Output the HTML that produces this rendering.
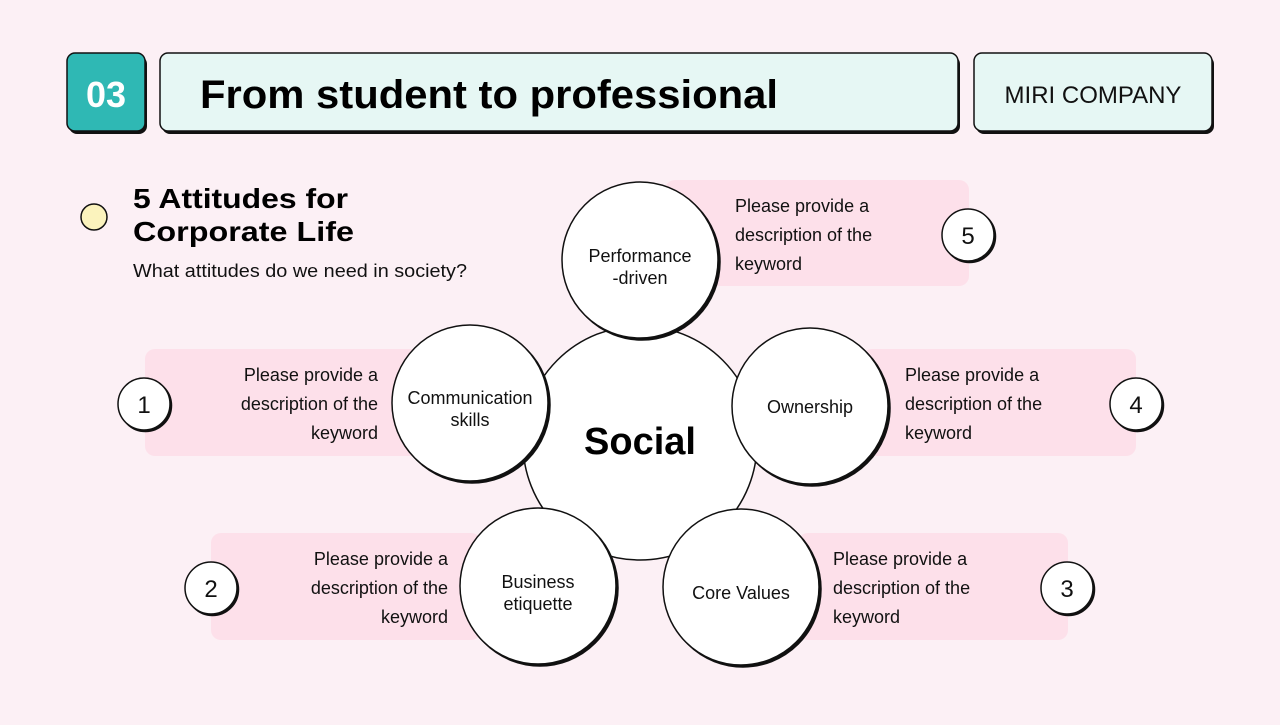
<!DOCTYPE html>
<html><head><meta charset="utf-8"><style>
body{margin:0;width:1280px;height:720px;overflow:hidden;background:#fcf0f5;font-family:"Liberation Sans",sans-serif}
</style></head><body>
<svg width="1280" height="720" xmlns="http://www.w3.org/2000/svg" font-family="Liberation Sans, sans-serif">
<rect width="1280" height="720" fill="#fcf0f5"/>
<!-- header -->
<rect x="69" y="56" width="78" height="78" rx="8" fill="#111"/>
<rect x="67" y="53" width="78" height="78" rx="8" fill="#2fb8b4" stroke="#111" stroke-width="1.5"/>
<text x="106" y="107" font-size="36" font-weight="bold" fill="#fff" text-anchor="middle">03</text>
<rect x="162" y="56" width="798" height="78" rx="8" fill="#111"/>
<rect x="160" y="53" width="798" height="78" rx="8" fill="#e6f7f4" stroke="#111" stroke-width="1.5"/>
<text x="200" y="108" font-size="40" font-weight="bold" fill="#000" textLength="578" lengthAdjust="spacingAndGlyphs">From student to professional</text>
<rect x="976" y="56" width="238" height="78" rx="8" fill="#111"/>
<rect x="974" y="53" width="238" height="78" rx="8" fill="#e6f7f4" stroke="#111" stroke-width="1.5"/>
<text x="1093" y="103" font-size="24" fill="#111" text-anchor="middle">MIRI COMPANY</text>
<!-- subtitle -->
<circle cx="94" cy="217" r="13" fill="#fbf3bd" stroke="#111" stroke-width="1.5"/>
<text x="133" y="208" font-size="28" font-weight="bold" fill="#000" textLength="215" lengthAdjust="spacingAndGlyphs">5 Attitudes for</text>
<text x="133" y="241" font-size="28" font-weight="bold" fill="#000" textLength="221" lengthAdjust="spacingAndGlyphs">Corporate Life</text>
<text x="133" y="277" font-size="18" fill="#111" textLength="334" lengthAdjust="spacingAndGlyphs">What attitudes do we need in society?</text>
<!-- pink boxes -->
<g fill="#fde0ea">
<rect x="665" y="180" width="304" height="106" rx="10"/>
<rect x="145" y="349" width="276" height="107" rx="10"/>
<rect x="862" y="349" width="274" height="107" rx="10"/>
<rect x="211" y="533" width="270" height="107" rx="10"/>
<rect x="798" y="533" width="270" height="107" rx="10"/>
</g>
<g font-size="18" fill="#111">
<text x="735" y="212">Please provide a</text><text x="735" y="241">description of the</text><text x="735" y="270">keyword</text>
<g text-anchor="end"><text x="378" y="381">Please provide a</text><text x="378" y="410">description of the</text><text x="378" y="439">keyword</text></g>
<text x="905" y="381">Please provide a</text><text x="905" y="410">description of the</text><text x="905" y="439">keyword</text>
<g text-anchor="end"><text x="448" y="565">Please provide a</text><text x="448" y="594">description of the</text><text x="448" y="623">keyword</text></g>
<text x="833" y="565">Please provide a</text><text x="833" y="594">description of the</text><text x="833" y="623">keyword</text>
</g>
<!-- number circles -->
<g fill="#fff" stroke="#111" stroke-width="1.5">
<circle cx="969.5" cy="236.5" r="26" fill="#111"/><circle cx="968" cy="235" r="26"/>
<circle cx="145.5" cy="405.5" r="26" fill="#111"/><circle cx="144" cy="404" r="26"/>
<circle cx="1137.5" cy="405.5" r="26" fill="#111"/><circle cx="1136" cy="404" r="26"/>
<circle cx="212.5" cy="589.5" r="26" fill="#111"/><circle cx="211" cy="588" r="26"/>
<circle cx="1068.5" cy="589.5" r="26" fill="#111"/><circle cx="1067" cy="588" r="26"/>
</g>
<g font-size="24" fill="#111" text-anchor="middle">
<text x="968" y="244">5</text><text x="144" y="413">1</text><text x="1136" y="413">4</text><text x="211" y="597">2</text><text x="1067" y="597">3</text>
</g>
<!-- center -->
<circle cx="640" cy="443" r="117" fill="#fff" stroke="#111" stroke-width="1.5"/>
<text x="640" y="454" font-size="38" font-weight="bold" fill="#000" text-anchor="middle">Social</text>
<!-- keyword circles -->
<g fill="#fff" stroke="#111" stroke-width="1.5">
<circle cx="642" cy="262" r="78" fill="#111"/><circle cx="640" cy="260" r="78"/>
<circle cx="472" cy="405" r="78" fill="#111"/><circle cx="470" cy="403" r="78"/>
<circle cx="812" cy="408" r="78" fill="#111"/><circle cx="810" cy="406" r="78"/>
<circle cx="540" cy="588" r="78" fill="#111"/><circle cx="538" cy="586" r="78"/>
<circle cx="743" cy="589" r="78" fill="#111"/><circle cx="741" cy="587" r="78"/>
</g>
<g font-size="18" fill="#111" text-anchor="middle">
<text x="640" y="262">Performance</text><text x="640" y="284">-driven</text>
<text x="470" y="404">Communication</text><text x="470" y="426">skills</text>
<text x="810" y="413">Ownership</text>
<text x="538" y="588">Business</text><text x="538" y="610">etiquette</text>
<text x="741" y="599">Core Values</text>
</g>
</svg>
</body></html>
